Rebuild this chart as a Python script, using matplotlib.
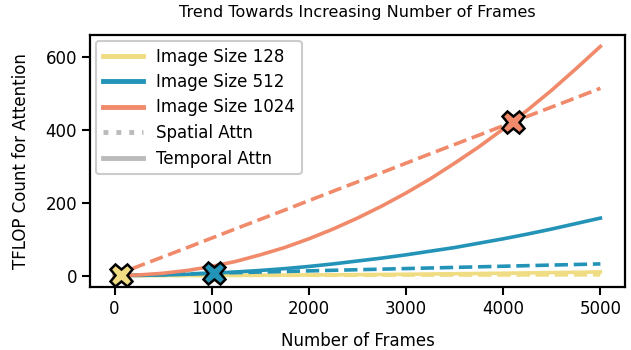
import matplotlib.pyplot as plt
from matplotlib.lines import Line2D

# Values
frames = [0, 250, 500, 750, 1000, 1250, 1500, 1750, 2000, 2250, 2500,
          2750, 3000, 3250, 3500, 3750, 4000, 4250, 4500, 4750, 5000]

temporal_128 = [0, 0.03, 0.1, 0.2, 0.4, 0.6, 0.9, 1.2, 1.6, 2.0, 2.5,
                3.0, 3.6, 4.2, 4.9, 5.6, 6.4, 7.2, 8.1, 9.0, 10]
spatial_128 = [0, 0.1, 0.2, 0.3, 0.4, 0.5, 0.6, 0.7, 0.8, 0.9, 1.0,
               1.1, 1.2, 1.3, 1.4, 1.5, 1.6, 1.7, 1.8, 1.9, 2.0]

temporal_512 = [0, 0.4, 1.6, 3.6, 6.3, 9.9, 14, 19, 25, 32, 40,
                48, 57, 67, 77, 89, 101, 114, 128, 143, 158]
spatial_512 = [0, 1.6, 3.2, 4.8, 6.4, 8, 9.6, 11.2, 12.8, 14.4, 16,
               17.6, 19.2, 20.8, 22.4, 24, 25.6, 27.2, 28.8, 30.4, 32]

temporal_1024 = [0, 1.6, 6.3, 14, 25, 39, 57, 77, 101, 128, 158,
                 191, 227, 266, 309, 354, 403, 455, 510, 569, 630]
spatial_1024 = [0, 26, 51.5, 77, 103, 129, 154.5, 180, 206, 232, 257.5,
                283, 309, 335, 360.5, 386, 412, 438, 463.5, 489, 515]

# crossover points (spatial == temporal)
cross_x = [64, 1024, 4096]
cross_y = [0.13, 6.6, 422]

sizes = ["128", "512", "1024"]
colors = ["#f0dc82", "#2394b8", "#f08a6a"]

plt.rcParams["font.family"] = "DejaVu Sans"
fig, ax = plt.subplots(figsize=(6.31, 3.5), dpi=100)
fig.subplots_adjust(left=0.143, right=0.99, bottom=0.18, top=0.9)

temporal = [temporal_128, temporal_512, temporal_1024]
spatial = [spatial_128, spatial_512, spatial_1024]

for t, s, c in zip(temporal, spatial, colors):
    ax.plot(frames, t, color=c, lw=2.6)
    ax.plot(frames, s, color=c, lw=2.6, ls="--")

for x, y, c in zip(cross_x, cross_y, colors):
    ax.plot(x, y, marker="X", ms=16, color=c, markeredgecolor="black",
            markeredgewidth=1.8, zorder=5)

handles = [Line2D([], [], color=c, lw=3.5) for c in colors]
handles.append(Line2D([], [], color="#bbbbbb", lw=3.5, ls=":"))
handles.append(Line2D([], [], color="#bbbbbb", lw=3.5))
labels = ["Image Size " + s for s in sizes] + ["Spatial Attn", "Temporal Attn"]
leg = ax.legend(handles, labels, loc="upper left", fontsize=12,
                handlelength=2.4, labelspacing=0.45, borderpad=0.4,
                handletextpad=0.8, framealpha=1, edgecolor="#cccccc",
                borderaxespad=0.35)
leg.get_frame().set_linewidth(1.5)

ax.set_xticks([0, 1000, 2000, 3000, 4000, 5000])
ax.set_yticks([0, 200, 400, 600])
ax.tick_params(labelsize=12, width=1.5, length=6)
for sp in ax.spines.values():
    sp.set_linewidth(1.6)

ax.set_xlabel("Number of Frames", fontsize=12, labelpad=10)
ax.set_ylabel("TFLOP Count for Attention", fontsize=12, labelpad=11)
ax.set_title("Trend Towards Increasing Number of Frames", fontsize=11.5, pad=13)

plt.savefig("out.png")
